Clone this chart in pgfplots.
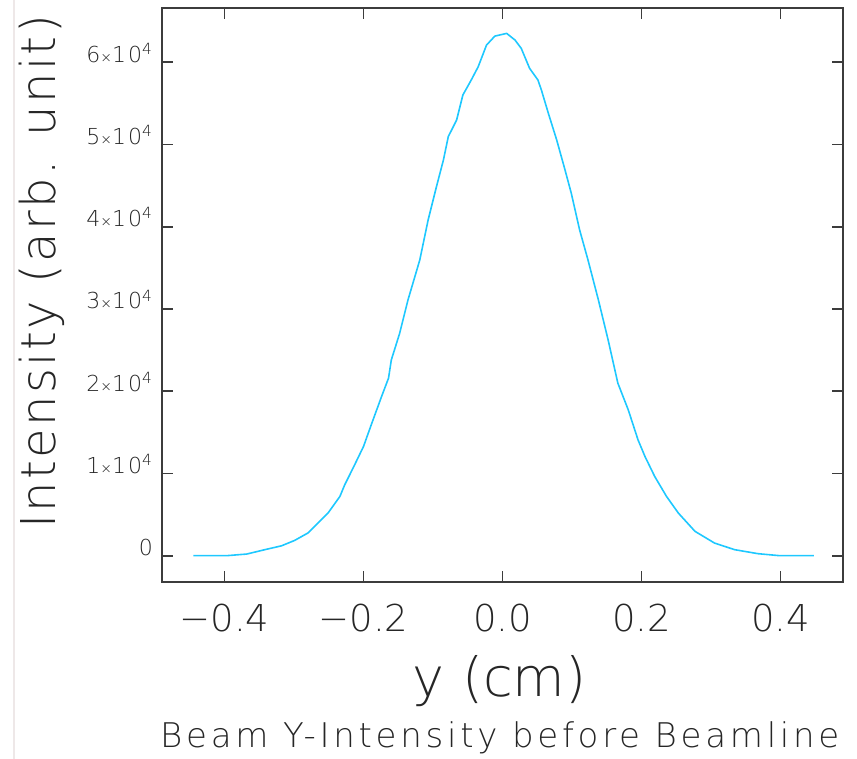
\documentclass[border=0pt]{standalone}
\usepackage{fontspec}
\IfFontExistsTF{DejaVu Sans ExtraLight}{\setmainfont{DejaVu Sans ExtraLight}}{\setmainfont{DejaVu Sans}}
\usepackage{pgfplots}
\pgfplotsset{compat=1.18}
\definecolor{curve}{RGB}{30,200,255}
\definecolor{axline}{RGB}{60,60,60}
\begin{document}
\begin{tikzpicture}
\useasboundingbox (-81pt,-88.5pt) rectangle (347.5pt,291pt);
\draw[color={rgb,255:red,238;green,232;blue,232}, line width=1pt] (-74pt,-88.5pt) -- (-74pt,291pt);
\begin{axis}[
  scale only axis,
  width=340.5pt, height=287pt,
  xmin=-0.49, xmax=0.49,
  ymin=-3200, ymax=66600,
  axis line style={color=axline, line width=0.9pt},
  every tick/.style={color=axline, line width=0.9pt},
  major tick length=5.5pt,
  tick align=inside,
  xtick={-0.4,-0.2,0,0.2,0.4},
  xticklabels={−0.4,−0.2,0.0,0.2,0.4},
  ytick={0,10000,20000,30000,40000,50000,60000},
  yticklabels={0,
    1{\scriptsize×}1\kern1pt0\textsuperscript{4},
    2{\scriptsize×}1\kern1pt0\textsuperscript{4},
    3{\scriptsize×}1\kern1pt0\textsuperscript{4},
    4{\scriptsize×}1\kern1pt0\textsuperscript{4},
    5{\scriptsize×}1\kern1pt0\textsuperscript{4},
    6{\scriptsize×}1\kern1pt0\textsuperscript{4}},
  xticklabel style={font=\fontsize{18.5}{20}\selectfont, anchor=base, yshift=-25pt, text=black!85},
  yticklabel style={font=\fontsize{11}{12}\selectfont, anchor=base east, xshift=-1pt, text=black!85},
  xlabel={y (cm)},
  xlabel style={at={(axis description cs:0.496,-0.2003)}, anchor=base, font=\fontsize{27}{30}\selectfont, text=black!85},
  ylabel={Intensity (arb. unit)},
  ylabel style={at={(axis description cs:-0.176,0.54)}, anchor=center, inner sep=0pt, font=\fontsize{24}{26}\selectfont\addfontfeatures{LetterSpace=5}, text=black!85},
  clip=false,
]
\addplot[color=curve, line width=0.8pt] coordinates {
(-0.445,0) (-0.397,0) (-0.368,200) (-0.342,730) (-0.318,1200) (-0.299,1860)
(-0.280,2760) (-0.268,3770) (-0.251,5190) (-0.234,7200) (-0.227,8630)
(-0.215,10660) (-0.200,13280) (-0.188,16120) (-0.174,19360) (-0.164,21590)
(-0.160,23800) (-0.148,27040) (-0.136,31100) (-0.119,35970) (-0.107,40830)
(-0.095,44880) (-0.085,48120) (-0.078,50960) (-0.066,52980) (-0.057,56020)
(-0.045,57840) (-0.035,59450) (-0.023,62090) (-0.011,63180) (0.006,63510)
(0.018,62700) (0.027,61690) (0.039,59260) (0.051,57840) (0.056,56620)
(0.066,53790) (0.078,50550) (0.090,46900) (0.099,44070) (0.111,39610)
(0.123,35970) (0.138,31100) (0.152,26240) (0.166,20980) (0.181,17730)
(0.195,14090) (0.205,12070) (0.219,9640) (0.236,7210) (0.253,5190)
(0.277,2960) (0.305,1540) (0.334,730) (0.368,240) (0.399,0) (0.448,0)
};
\node[anchor=base, font=\fontsize{17}{20}\selectfont\addfontfeatures{LetterSpace=11}, text=black!85, inner sep=0pt]
  at (axis description cs:0.496,-0.2875) {Beam Y-Intensity before Beamline};
\end{axis}
\end{tikzpicture}
\end{document}
